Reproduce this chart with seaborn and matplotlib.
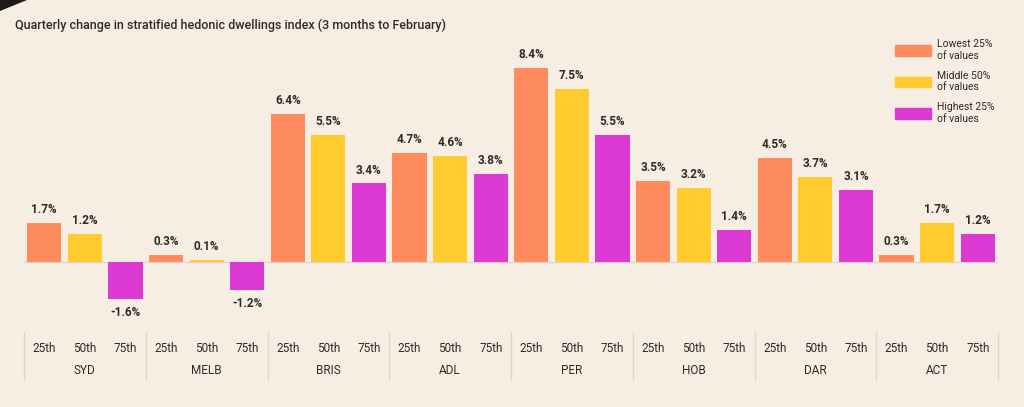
import matplotlib
matplotlib.use("Agg")
import matplotlib.pyplot as plt
import matplotlib.patches as mpatches
import matplotlib.lines as mlines
import seaborn as sns
import pandas as pd

cities = ["SYD", "MELB", "BRIS", "ADL", "PER", "HOB", "DAR", "ACT"]
percentiles = ["25th", "50th", "75th"]
tiers = ["Lowest 25%\nof values", "Middle 50%\nof values", "Highest 25%\nof values"]
lowest = [1.7, 0.3, 6.4, 4.7, 8.4, 3.5, 4.5, 0.3]
middle = [1.2, 0.1, 5.5, 4.6, 7.5, 3.2, 3.7, 1.7]
highest = [-1.6, -1.2, 3.4, 3.8, 5.5, 1.4, 3.1, 1.2]
title = "Quarterly change in stratified hedonic dwellings index (3 months to February)"

rows = []
for series, tier in zip([lowest, middle, highest], tiers):
    for c, v in zip(cities, series):
        rows.append({"city": c, "tier": tier, "value": v})
df = pd.DataFrame(rows)

BG = "#F7EEE3"
colors = ["#FF8C5F", "#FFCB2F", "#DD3AD3"]
TXT = "#2f2a26"

sns.set_theme(style="white")
plt.rcParams["font.family"] = ["Roboto", "DejaVu Sans"]

fig = plt.figure(figsize=(10.24, 4.07), dpi=100, facecolor=BG)
ax = fig.add_axes([24 / 1024, 87 / 407, 974 / 1024, 280 / 407])
ax.set_facecolor(BG)

sns.barplot(data=df, x="city", y="value", hue="tier", order=cities, hue_order=tiers,
            palette=colors, width=1.0, gap=0.16, saturation=1, linewidth=0,
            ax=ax, legend=False)

ax.set_xlim(-0.5, len(cities) - 0.5)
ax.set_ylim(-2.51, 9.61)
for s in ax.spines.values():
    s.set_visible(False)
ax.set_xticks([])
ax.set_yticks([])
ax.set_xlabel("")
ax.set_ylabel("")
ax.axhline(0, color="#ddd6ce", lw=1.0, zorder=0)

for cont in ax.containers:
    ax.bar_label(cont, fmt="{:.1f}%", padding=5, fontsize=8.5, fontweight="bold", color=TXT)

xt = ax.get_xaxis_transform()
for i, c in enumerate(cities):
    for j, p in enumerate(percentiles):
        ax.text(i + (j - 1) / 3, -0.10, p, transform=xt, ha="center", va="center",
                fontsize=8.5, color=TXT)
    ax.text(i, -0.182, c, transform=xt, ha="center", va="center", fontsize=8.5,
            color=TXT)
for k in range(len(cities) + 1):
    ax.add_line(mlines.Line2D([k - 0.5, k - 0.5], [-0.043, -0.214], transform=xt,
                              color="#ddd6ce", lw=1, clip_on=False))

fig.text(15 / 1024, 1 - 25 / 407, title, ha="left", va="center", fontsize=9.0,
         fontweight="medium", color=TXT)

handles = [mpatches.Patch(color=col, label=t) for col, t in zip(colors, tiers)]
leg = fig.legend(handles=handles, loc="upper left", bbox_to_anchor=(886 / 1024, 1 - 30 / 407),
                 frameon=False, fontsize=7.5, handlelength=3.4, handleheight=1.2,
                 labelspacing=0.95, handletextpad=0.55)
for t in leg.get_texts():
    t.set_color(TXT)

fig.patches.append(mpatches.Polygon([(0, 1), (27 / 1024, 1), (0, 1 - 11 / 407)], closed=True,
                                    transform=fig.transFigure, facecolor="#1e1a17", edgecolor="none"))

fig.savefig("out.png", dpi=100, facecolor=BG)
